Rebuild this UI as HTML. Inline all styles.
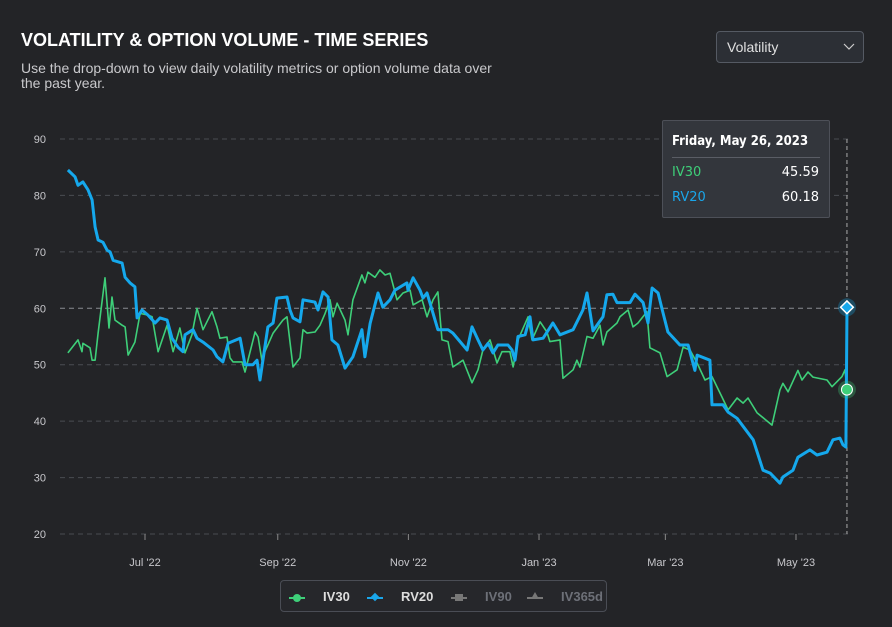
<!DOCTYPE html>
<html><head><meta charset="utf-8"><style>
body{margin:0;width:892px;height:627px;background:#232427;font-family:"Liberation Sans",sans-serif;overflow:hidden;position:relative}
.title{position:absolute;left:21px;top:30px;color:#fff;font-weight:bold;font-size:18px}
.sub{position:absolute;left:21px;top:61px;color:#c9c9cc;font-size:14px;line-height:15px;width:480px}
.dd{position:absolute;left:716px;top:31px;width:148px;height:32px;box-sizing:border-box;border:1px solid #555a63;border-radius:4px;background:#2c2f35;color:#e0e0e0;font-size:14px;line-height:30px;padding-left:10px}
.tt{position:absolute;left:662px;top:120px;width:168px;height:98px;box-sizing:border-box;background:#33363c;border:1px solid #4d5058;border-radius:2px;font-family:"DejaVu Sans",sans-serif}
.leg{position:absolute;left:280px;top:580px;width:327px;height:32px;box-sizing:border-box;border:1px solid #4a4d55;border-radius:4px;background:#26272b}
</style></head><body>
<div class="title">VOLATILITY &amp; OPTION VOLUME - TIME SERIES</div>
<div class="sub">Use the drop-down to view daily volatility metrics or option volume data over the past year.</div>
<div class="dd">Volatility<svg style="position:absolute;right:8px;top:11px" width="12" height="8"><path d="M1 1 L6 6 L11 1" stroke="#ccc" fill="none" stroke-width="1.2"/></svg></div>
<svg id="chart" width="892" height="627" style="position:absolute;left:0;top:0"></svg>
<div class="tt">
<div style="position:absolute;left:9px;top:13px;color:#fff;font-weight:bold;font-size:13px;white-space:nowrap;font-family:'DejaVu Sans Condensed','DejaVu Sans',sans-serif">Friday, May 26, 2023</div>
<div style="position:absolute;left:9px;right:9px;top:36px;border-top:1px solid #5a5d65"></div>
<div style="position:absolute;left:9px;top:44px;color:#3ecf79;font-size:13px">IV30</div>
<div style="position:absolute;right:10px;top:44px;color:#fff;font-size:13px">45.59</div>
<div style="position:absolute;left:9px;top:69px;color:#1aa6ea;font-size:13px">RV20</div>
<div style="position:absolute;right:10px;top:69px;color:#fff;font-size:13px">60.18</div>
</div>
<div class="leg">
<div style="position:absolute;left:8px;top:8px;color:#ddd;font-weight:bold;font-size:13px"><span style="display:inline-block;width:16px;height:2px;background:#3ecf79;vertical-align:middle;position:relative"><span style="position:absolute;left:4px;top:-3px;width:8px;height:8px;border-radius:50%;background:#3ecf79"></span></span>&nbsp;&nbsp;&nbsp;&nbsp;&nbsp;IV30</div>
<div style="position:absolute;left:86px;top:8px;color:#ddd;font-weight:bold;font-size:13px"><span style="display:inline-block;width:16px;height:2px;background:#1aa6ea;vertical-align:middle;position:relative"><span style="position:absolute;left:5px;top:-3px;width:6px;height:6px;transform:rotate(45deg);background:#1aa6ea"></span></span>&nbsp;&nbsp;&nbsp;&nbsp;&nbsp;RV20</div>
<div style="position:absolute;left:170px;top:8px;color:#6d7078;font-weight:bold;font-size:13px"><span style="display:inline-block;width:16px;height:2px;background:#777;vertical-align:middle;position:relative"><span style="position:absolute;left:4px;top:-3px;width:8px;height:7px;background:#777"></span></span>&nbsp;&nbsp;&nbsp;&nbsp;&nbsp;IV90</div>
<div style="position:absolute;left:246px;top:8px;color:#6d7078;font-weight:bold;font-size:13px"><span style="display:inline-block;width:16px;height:2px;background:#777;vertical-align:middle;position:relative"><span style="position:absolute;left:4px;top:-5px;width:0;height:0;border-left:4px solid transparent;border-right:4px solid transparent;border-bottom:7px solid #777"></span></span>&nbsp;&nbsp;&nbsp;&nbsp;&nbsp;IV365d</div>
</div>
<script>
const yTicks=[20,30,40,50,60,70,80,90];
const xTickDays=[0,62,123,184,243,304];
const xTickLabels=["Jul '22","Sep '22","Nov '22","Jan '23","Mar '23","May '23"];
const rvDays=[-36,-32.7,-31.3,-29,-26.6,-24.7,-23.3,-21.9,-19.6,-17.7,-16.3,-14.9,-10.7,-9.3,-7,-4.7,-3.7,-1.4,1.4,4.7,7,10.3,12.6,15.4,17.7,18.7,22.4,24.3,27.1,31.8,33.6,36.4,38.8,44.4,46.7,50.4,52.3,53.7,54.6,57.4,59.8,61.6,66.3,67.7,69.1,72.4,73.8,79.4,80.8,83.1,85.5,87.3,90.1,93.4,97.1,101.3,102.7,105.1,108.8,111.1,114.4,116.7,122.3,122.8,125.2,128.4,129.8,131.7,136.8,141.5,143.8,150.4,152.7,155.5,157.8,160.2,162.5,164.8,169.5,171.4,172.8,174.2,177.5,179.8,181.2,185.9,190.5,193.8,199.9,204.5,206.4,209.2,213.9,215.7,218.5,220.4,226.5,228.8,232.6,234.9,236.8,239.6,241.9,244.2,249.8,253.6,256.8,257.8,263.8,264.8,269.9,272.3,276.5,284,288.6,291.9,296.5,297.9,302.6,304.9,310.5,313.8,318.5,321.3,324.5,325.9,327.3,327.8];
const rvValues=[84.5,83.3,81.8,82.4,81,79.2,74.4,72.1,71.7,70.3,70,68.5,68,65.5,64.5,63.8,58.3,59.7,58.8,57.4,58.3,57.9,54.7,53.1,52.3,55.3,56.2,54.7,54,52.6,51.4,50.5,53.8,54.7,50,50,50.8,47.3,49.6,56.7,57.4,61.8,62,59.7,58.3,57.6,61.5,61.1,59.7,62.9,62,54.4,53.5,49.4,51.4,56.2,51.4,57.3,62.7,60.2,61.5,63.2,64.5,63.2,65.4,63.2,61.8,62.7,56.2,56.2,55.6,52.6,56.7,54.4,52.6,53.8,52.1,53.5,53.5,52.6,50.8,55,55.3,58.5,54.4,54.7,57.4,55.3,56.2,59.7,62.7,56,58.5,62.4,62.5,61,61,62.5,61,57.4,63.6,62.7,59.2,55.8,53.5,53.5,49,51.7,50.8,42.9,42.9,41.6,40.5,36.7,31.3,30.8,29,30.1,31.3,33.6,34.9,34,34.5,36.7,37,35.8,35.4,60.18];
const ivDays=[-36,-31.3,-29.4,-29,-25.7,-24.7,-23.3,-21.9,-18.7,-16.8,-15.4,-14,-10.7,-9.3,-7.9,-4.7,-2.3,1.4,3.3,6.1,10.3,13.1,16.3,18.7,21.9,24.3,27.1,31.3,33.6,35,38.3,39.7,41.1,45.3,46.7,51.4,52.8,54.6,56,59.8,64.4,66.3,67.7,69.1,72.4,73.8,75.7,79.4,81.7,84.1,86.4,87.8,89.7,93.4,94.8,97.1,101.3,102.7,104.1,107.4,109.7,112.1,114.4,117.7,120.5,123.8,125.2,129.4,131.7,134.5,136.8,138.7,141.5,143.8,148.5,152.7,155.5,157.8,161.1,164.4,166.7,170.4,171.9,174.2,178.9,180.7,184.5,187.7,189.1,193.8,195.2,199.9,201.7,203.1,206.4,209.2,212.5,213.9,215.7,220.4,221.8,225.6,227.9,230.2,234.4,235.8,240.5,243.8,248.5,251.3,254.5,257.8,261.5,264.8,269.4,272.3,276.5,279.3,281.6,285.8,292.8,296.5,297.9,300.3,304.9,306.8,309.6,311.9,318.5,320.8,325.5,326.9,327.8];
const ivValues=[52.1,54.4,52.3,53.8,53,50.8,50.8,55.6,65.4,56.5,62,57.9,57,56.7,51.7,54,59.1,58.8,58.5,52.3,57,52.3,56.5,52.1,55.3,60,56.2,59.4,56.7,54.7,54.9,51.2,50.5,50.5,48.7,55.8,54.9,50.8,52.3,55.6,57.9,58.5,54,49.6,51.2,56.2,55.6,55.8,57,59.1,61.5,58.5,60.9,57.9,55.3,61.5,65.9,64.5,66.4,65.5,66.8,65.9,66.2,61.5,62.7,63.2,60.6,61.5,58.5,61.5,62.9,54.4,54.1,49.6,50.8,46.8,49.1,52.6,54.4,50.3,52.3,52.3,49.6,54.4,58.5,54.4,57.6,55.8,54.1,54.4,47.6,49.1,50.8,49.6,55,54.7,57,53.5,55.8,57.4,58.5,59.7,56.7,57.4,59.4,53,52.1,47.9,49.1,53.1,52.6,50.3,47.3,47.9,44.3,42,44.1,43.2,44.1,41.5,39.3,45.5,46.7,45.2,49,47.3,48.7,47.8,47.3,46.1,47.9,49.1,45.59];

const NS="http://www.w3.org/2000/svg";
const svg=document.getElementById('chart');
const X0=60,X1=850;
const x=d=>145+d*2.1414;
const y=v=>534-(v-20)*(395/70);
function mk(t,a){const e=document.createElementNS(NS,t);for(const k in a)e.setAttribute(k,a[k]);svg.appendChild(e);return e;}
yTicks.forEach(v=>{
  const g=mk('line',{x1:X0,x2:X1,y1:y(v),y2:y(v),stroke:v===60?'#8a8c92':'#4a4c52','stroke-width':1,'stroke-dasharray':'5,4'});
  
  
  const t=mk('text',{x:46,y:y(v)+4,fill:'#c8c8cc','font-size':11,'text-anchor':'end','font-family':'Liberation Sans'});
  t.textContent=v;
  
  
});
xTickDays.forEach((d,i)=>{
  const tk=mk('line',{x1:x(d),x2:x(d),y1:534,y2:540,stroke:'#888'});
  
  
  const t=mk('text',{x:x(d),y:566,fill:'#c8c8cc','font-size':11,'text-anchor':'middle','font-family':'Liberation Sans'});
  t.textContent=xTickLabels[i];
  
  
});
const last=rvDays[rvDays.length-1];
const cl=mk('line',{x1:x(last),x2:x(last),y1:139,y2:534,stroke:'#aaa','stroke-dasharray':'4,3'});


function path(ds,vs){return ds.map((d,i)=>(i?'L':'M')+x(d).toFixed(1)+' '+y(vs[i]).toFixed(1)).join(' ');}
const iv=mk('path',{d:path(ivDays,ivValues),stroke:'#3ecf79','stroke-width':1.6,fill:'none','stroke-linejoin':'round'});


const rv=mk('path',{d:path(rvDays,rvValues),stroke:'#15a8ec','stroke-width':3,fill:'none','stroke-linejoin':'round'});


const ivl=ivValues[ivValues.length-1],rvl=rvValues[rvValues.length-1];
mk('circle',{cx:x(last),cy:y(ivl),r:9,fill:'rgba(62,207,121,0.3)'});
const ip=mk('circle',{cx:x(last),cy:y(ivl),r:5.5,fill:'#3ecf79',stroke:'#fff','stroke-width':1});


mk('circle',{cx:x(last),cy:y(rvl),r:9,fill:'rgba(21,168,236,0.3)'});
const rp=mk('rect',{x:x(last)-4.5,y:y(rvl)-4.5,width:9,height:9,fill:'#15a8ec',stroke:'#fff','stroke-width':1.5,transform:`rotate(45 ${x(last)} ${y(rvl)})`});


</script>
</body></html>
